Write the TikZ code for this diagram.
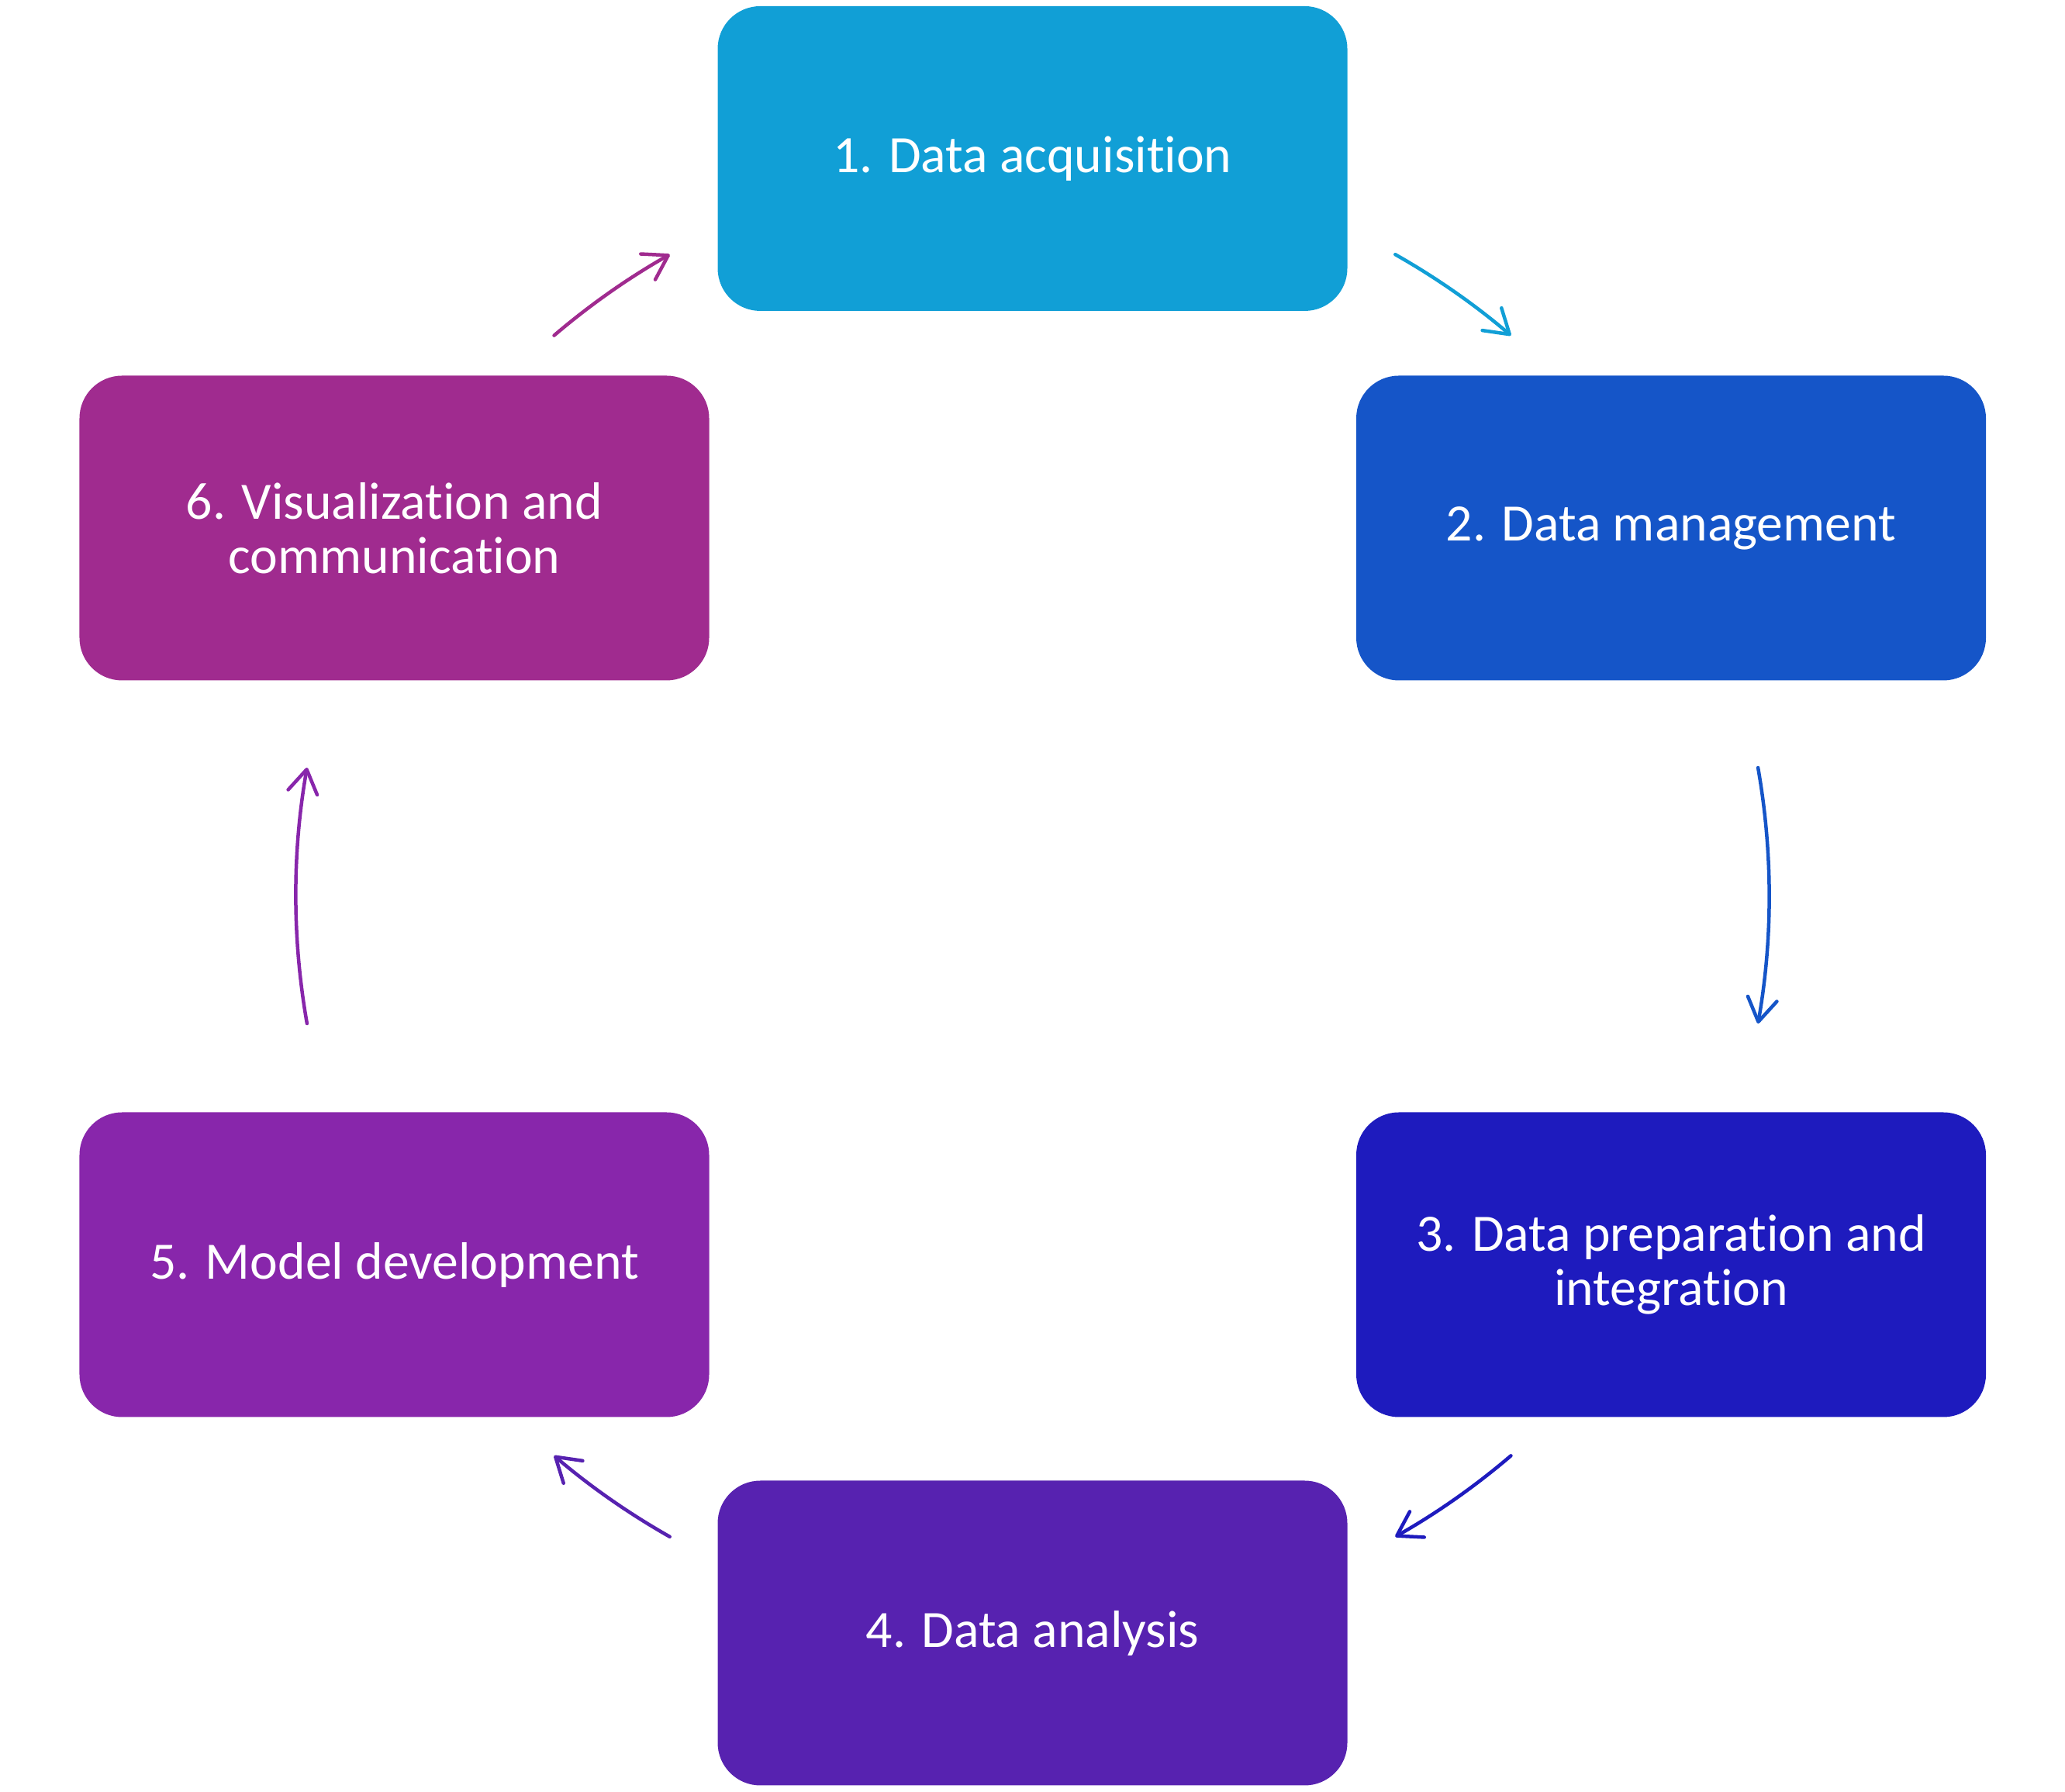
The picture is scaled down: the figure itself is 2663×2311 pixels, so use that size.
\documentclass[tikz,border=0pt]{standalone}
\usepackage{fontspec}
\setmainfont{Carlito}[Ligatures=NoCommon]
\usetikzlibrary{arrows.meta}
\definecolor{cA}{HTML}{119FD6}
\definecolor{cB}{HTML}{1555C8}
\definecolor{cC}{HTML}{1E1BBE}
\definecolor{cD}{HTML}{5722B0}
\definecolor{cE}{HTML}{8826AB}
\definecolor{cF}{HTML}{A02B8F}
\begin{document}
\begin{tikzpicture}[x=1bp,y=1bp,
  stage/.style={rounded corners=55bp, minimum width=812bp, minimum height=393bp,
    text=white, font=\fontsize{68}{70}\selectfont, align=center, inner sep=0pt},
  flow/.style={line width=4.5bp, line cap=round,
    -{Straight Barb[length=30bp,width=38bp,round]}}]
\useasboundingbox (0,0) rectangle (2663,2311);
\node[stage, fill=cA] (s1) at (1331.5,2106.5) {1. Data acquisition};
\node[stage, fill=cB] (s2) at (2155,1630) {2. Data management};
\node[stage, fill=cC] (s3) at (2155,680) {3. Data preparation and\\integration};
\node[stage, fill=cD] (s4) at (1331.5,205) {4. Data analysis};
\node[stage, fill=cE] (s5) at (508.5,680) {5. Model development};
\node[stage, fill=cF] (s6) at (508.5,1630) {6. Visualization and\\communication};
\coordinate (c) at (1331.5,1156);
\path (c) ++(60.5:950) coordinate (a12);
\path (c) ++(10:950) coordinate (a23);
\path (c) ++(-49.5:950) coordinate (a34);
\path (c) ++(-119.5:950) coordinate (a45);
\path (c) ++(-170:950) coordinate (a56);
\path (c) ++(130.5:950) coordinate (a61);
\draw[flow, draw=cA] (a12) arc[start angle=60.5, end angle=49.5, radius=950];
\draw[flow, draw=cB] (a23) arc[start angle=10, end angle=-10, radius=950];
\draw[flow, draw=cC] (a34) arc[start angle=-49.5, end angle=-60.5, radius=950];
\draw[flow, draw=cD] (a45) arc[start angle=-119.5, end angle=-130.5, radius=950];
\draw[flow, draw=cE] (a56) arc[start angle=-170, end angle=-190, radius=950];
\draw[flow, draw=cF] (a61) arc[start angle=130.5, end angle=119.5, radius=950];
\end{tikzpicture}
\end{document}
